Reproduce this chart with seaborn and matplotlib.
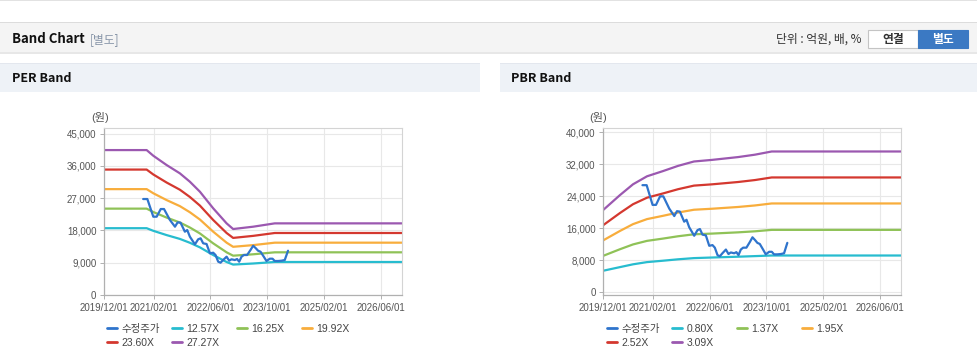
import matplotlib
matplotlib.use("Agg")
import matplotlib.pyplot as plt
import seaborn as sns
import pandas as pd
from matplotlib.patches import Rectangle
from matplotlib.lines import Line2D
from matplotlib.legend import Legend
from matplotlib.ticker import FuncFormatter

# ---------------- data ----------------
tick_dates = ["2019-12-01", "2021-02-01", "2022-06-01", "2023-10-01", "2025-02-01", "2026-06-01"]
tick_labels = ["2019/12/01", "2021/02/01", "2022/06/01", "2023/10/01", "2025/02/01", "2026/06/01"]

price_dates = ["2020-11-01", "2020-12-07", "2021-01-27", "2021-02-25", "2021-04-01", "2021-04-29",
               "2021-06-19", "2021-08-01", "2021-08-24", "2021-09-18", "2021-10-25", "2021-11-14",
               "2021-12-07", "2022-01-19", "2022-02-16", "2022-03-09", "2022-03-31", "2022-04-29",
               "2022-05-28", "2022-06-25", "2022-07-15", "2022-08-07", "2022-08-27", "2022-09-18",
               "2022-10-18", "2022-11-09", "2022-11-29", "2022-12-28", "2023-01-16", "2023-02-03",
               "2023-02-23", "2023-03-15", "2023-04-12", "2023-05-11", "2023-06-03", "2023-06-26",
               "2023-07-15", "2023-08-05", "2023-09-02", "2023-09-25", "2023-10-24", "2023-11-16",
               "2023-12-05", "2024-01-03", "2024-02-01", "2024-02-29", "2024-03-28"]
price = [26780, 26780, 21850, 21850, 23990, 23990, 20920, 19060, 20280, 20170, 17660, 18130,
         16270, 14140, 15540, 15820, 14420, 14230, 11630, 11800, 11160, 9290, 9010, 9760,
         10690, 9570, 9960, 9760, 10040, 9290, 10690, 11160, 11160, 12550, 13750, 13030,
         12360, 12080, 10690, 9490, 10130, 10130, 9490, 9490, 9570, 9760, 12360]

per_dates = ["2019-12-01", "2020-12-01", "2021-01-27", "2021-05-21", "2021-09-12", "2021-12-07",
             "2022-03-03", "2022-06-25", "2022-10-18", "2022-12-13", "2023-06-03", "2023-12-05",
             "2026-12-01"]
per_1257 = [18640, 18640, 17910, 16720, 15650, 14570, 13290, 11150, 9210, 8490, 8790, 9210, 9210]
per_1625 = [24100, 24100, 23160, 21610, 20230, 18830, 17180, 14410, 11910, 10970, 11360, 11910, 11910]
per_1992 = [29540, 29540, 28390, 26490, 24800, 23090, 21060, 17670, 14600, 13450, 13920, 14600, 14600]
per_2360 = [35000, 35000, 33630, 31390, 29380, 27350, 24950, 20930, 17300, 15930, 16500, 17300, 17300]
per_2727 = [40440, 40440, 38860, 36270, 33950, 31610, 28820, 24190, 19990, 18410, 19060, 19990, 19990]
per_labels = ["12.57X", "16.25X", "19.92X", "23.60X", "27.27X"]

pbr_dates = ["2019-12-01", "2020-04-22", "2020-08-12", "2020-12-10", "2021-04-26", "2021-09-02",
             "2022-01-17", "2022-06-21", "2023-01-30", "2023-06-24", "2023-11-15", "2026-12-01"]
pbr_080 = [5400, 6300, 7000, 7550, 7900, 8250, 8550, 8700, 8900, 9050, 9200, 9200]
pbr_137 = [9130, 10770, 11970, 12860, 13430, 14010, 14500, 14680, 14990, 15250, 15610, 15610]
pbr_195 = [13000, 15340, 17040, 18300, 19120, 19940, 20640, 20890, 21330, 21710, 22210, 22210]
pbr_252 = [16800, 19820, 22020, 23650, 24710, 25770, 26670, 26990, 27570, 28060, 28710, 28710]
pbr_309 = [20600, 24300, 27000, 29000, 30300, 31600, 32700, 33100, 33800, 34400, 35200, 35200]
pbr_labels = ["0.80X", "1.37X", "1.95X", "2.52X", "3.09X"]

price_label = "수정주가"
band_colors = ["#27bccf", "#8fc257", "#f8ad3c", "#d4382f", "#9b58b0"]
price_color = "#2f74cc"

# ---------------- style ----------------
sns.set_theme(style="white")
plt.rcParams["font.family"] = ["Liberation Sans", "Noto Sans CJK KR", "DejaVu Sans"]
HFONT = ["Noto Sans CJK KR", "DejaVu Sans"]

W, H = 978, 362
fig = plt.figure(figsize=(W / 100, H / 100), dpi=100)
fig.patch.set_facecolor("white")


def fx(x):
    return x / W


def fy(y):
    return 1 - y / H


def rect(x0, y0, x1, y1, fc, ec="none", lw=0.0, z=0):
    fig.add_artist(Rectangle((fx(x0), fy(y1)), (x1 - x0) / W, (y1 - y0) / H,
                             transform=fig.transFigure, facecolor=fc, edgecolor=ec,
                             linewidth=lw, zorder=z))


# header bar
rect(0, 0, W, 1.2, "#e2e2e2")
rect(0, 22, W, 23.2, "#dcdcdc")
rect(0, 23.2, W, 52, "#f4f4f4")
rect(0, 52, W, 54, "#e7e7e7")
rect(0, 63, 480, 64, "#e3e7ee")
rect(0, 64, 480, 92, "#eef2f7")
rect(500, 63, W, 64, "#e3e7ee")
rect(500, 64, W, 92, "#eef2f7")

fig.text(fx(12), fy(39), "Band Chart", fontsize=9.5, fontweight="bold", color="#111",
         family=HFONT, va="center", ha="left")
fig.text(fx(90), fy(40), "[별도]", fontsize=8.5, color="#8795a8", family=HFONT,
         va="center", ha="left")
fig.text(fx(862), fy(39), "단위 : 억원, 배, %", fontsize=8.5, color="#333", family=HFONT,
         va="center", ha="right")
rect(868, 30, 918, 48, "white", ec="#c4c4c4", lw=0.8, z=1)
rect(918, 30, 968, 48, "#3b79c3", ec="#3b79c3", lw=0.8, z=1)
fig.text(fx(893), fy(39), "연결", fontsize=8.5, fontweight="bold", color="#333", family=HFONT,
         va="center", ha="center")
fig.text(fx(943), fy(39), "별도", fontsize=8.5, fontweight="bold", color="white", family=HFONT,
         va="center", ha="center")
fig.text(fx(12), fy(78), "PER Band", fontsize=9, fontweight="bold", color="#111",
         family=HFONT, va="center", ha="left")
fig.text(fx(511), fy(78), "PBR Band", fontsize=9, fontweight="bold", color="#111",
         family=HFONT, va="center", ha="left")


def make_df(dates, series, labels):
    frames = []
    for vals, lab in zip(series, labels):
        frames.append(pd.DataFrame({"date": pd.to_datetime(dates), "value": vals, "series": lab}))
    return pd.concat(frames, ignore_index=True)


price_df = pd.DataFrame({"date": pd.to_datetime(price_dates), "value": price})


def draw_panel(left_px, dates, series, labels, ylim, yticks, unit_x, legend_x):
    ax = fig.add_axes([fx(left_px), fy(295), 298 / W, 167 / H])
    df = make_df(dates, series, labels)
    sns.lineplot(data=df, x="date", y="value", hue="series", hue_order=labels,
                 palette=dict(zip(labels, band_colors)), ax=ax, legend=False,
                 linewidth=1.6, estimator=None, sort=False)
    sns.lineplot(data=price_df, x="date", y="value", color=price_color, ax=ax,
                 linewidth=1.6, estimator=None, sort=False)
    ax.set_xlim(pd.Timestamp("2019-12-01"), pd.Timestamp("2026-12-01"))
    ax.set_ylim(*ylim)
    ax.set_yticks(yticks)
    ax.yaxis.set_major_formatter(FuncFormatter(lambda v, p: f"{int(round(v)):,}"))
    ax.set_xticks(pd.to_datetime(tick_dates))
    ax.set_xticklabels(tick_labels)
    ax.set_xlabel("")
    ax.set_ylabel("")
    ax.grid(True, color="#e8e8e8", linewidth=0.8)
    ax.set_axisbelow(True)
    for s in ["top", "right"]:
        ax.spines[s].set_color("#d4d4d4")
        ax.spines[s].set_linewidth(0.8)
    for s in ["left", "bottom"]:
        ax.spines[s].set_color("#b0b0b0")
        ax.spines[s].set_linewidth(0.9)
    ax.tick_params(axis="both", length=3, width=0.7, color="#b0b0b0", labelsize=7,
                   labelcolor="#555555", pad=2.5, direction="out", bottom=True, left=True)
    fig.text(fx(unit_x), fy(118), "(원)", fontsize=8, color="#555", va="center", ha="center")

    # legend entries (4 columns, 2 rows)
    entries = [(price_label, price_color)] + list(zip(labels, band_colors))
    rows_y = [329, 343]
    for i, (lab, col) in enumerate(entries):
        r, c = divmod(i, 4)
        h = Line2D([0], [0], color=col, linewidth=2)
        leg = Legend(ax, [h], [lab], loc="center left",
                     bbox_to_anchor=(fx(legend_x + 65 * c), fy(rows_y[r])),
                     bbox_transform=fig.transFigure, frameon=False, borderpad=0,
                     borderaxespad=0, handlelength=1.0, handletextpad=0.4,
                     fontsize=7.5, labelcolor="#444")
        ax.add_artist(leg)
    return ax


draw_panel(104, per_dates, [per_1257, per_1625, per_1992, per_2360, per_2727], per_labels,
           (0, 46600), [0, 9000, 18000, 27000, 36000, 45000], 100, 107)
draw_panel(603.3, pbr_dates, [pbr_080, pbr_137, pbr_195, pbr_252, pbr_309], pbr_labels,
           (-670, 41070), [0, 8000, 16000, 24000, 32000, 40000], 598, 607)

fig.savefig("out.png", dpi=100, facecolor="white")
